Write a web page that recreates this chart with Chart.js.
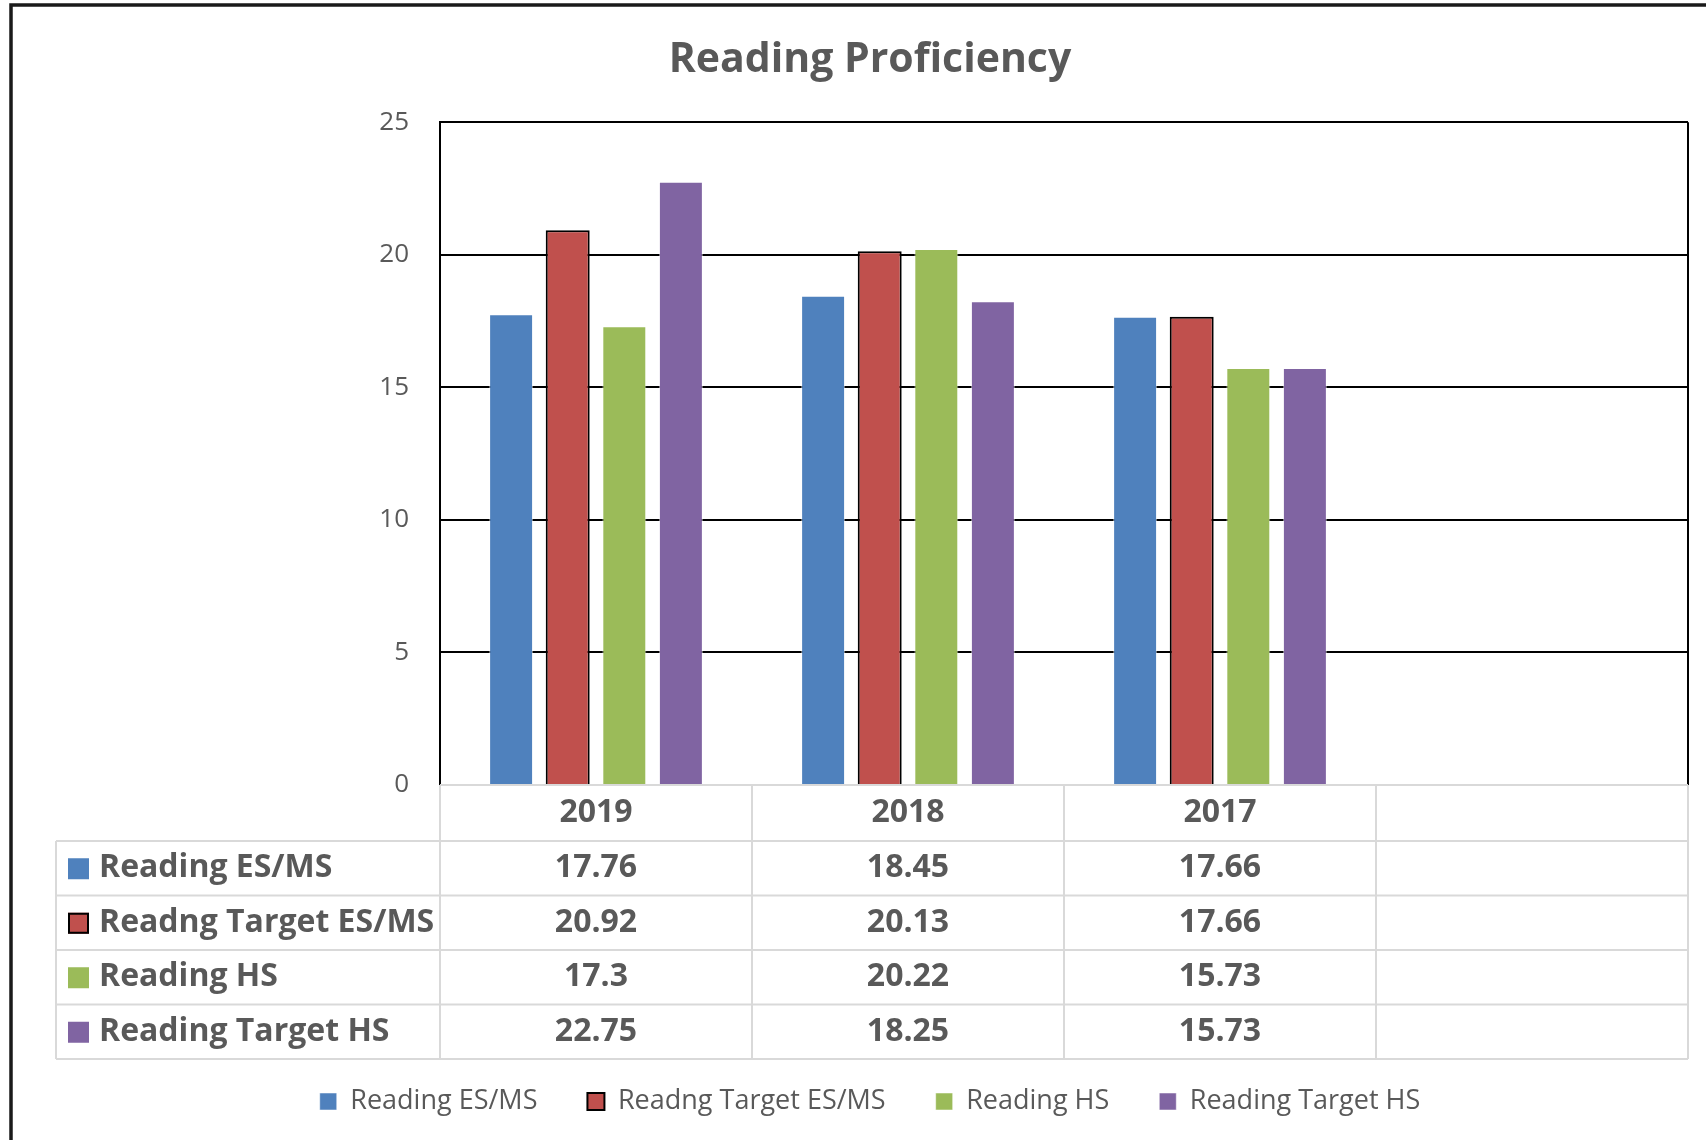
<!DOCTYPE html>
<html>
<head>
<meta charset="utf-8">
<style>
  html, body { margin: 0; padding: 0; background: #fff; }
  #readingChart { display: block; }
</style>
</head>
<body>
<canvas id="readingChart" width="1706" height="1140" style="width:1706px;height:1140px"></canvas>
<script src="https://cdn.jsdelivr.net/npm/chart.js"></script>
<script>
    // values
    const years = ['2019', '2018', '2017', ''];
    const seriesNames = ['Reading ES/MS', 'Readng Target ES/MS', 'Reading HS', 'Reading Target HS'];
    const readingEsMs = [17.76, 18.45, 17.66, null];
    const targetEsMs = [20.92, 20.13, 17.66, null];
    const readingHs = [17.3, 20.22, 15.73, null];
    const targetHs = [22.75, 18.25, 15.73, null];
    const yTicks = [0, 5, 10, 15, 20, 25];

    const textGrey = '#595959';
    const fontFamily = '"Open Sans", "Noto Sans", sans-serif';
    const colors = ['#4F81BD', '#C0504D', '#9BBB59', '#8064A2'];
    const allSeries = [readingEsMs, targetEsMs, readingHs, targetHs];

    Chart.defaults.font.family = fontFamily;
    Chart.defaults.color = textGrey;

    // frame round the chart and the plot's right edge
    const framePlugin = {
        id: 'frame',
        beforeDraw(chart) {
            const c = chart.ctx;
            c.save();
            c.fillStyle = '#fff';
            c.fillRect(0, 0, chart.width, chart.height);
            c.strokeStyle = '#1a1a1a';
            c.lineWidth = 3.5;
            c.beginPath();
            c.moveTo(11, chart.height);
            c.lineTo(11, 5);
            c.lineTo(chart.width, 5);
            c.stroke();
            c.restore();
        },
        afterDatasetsDraw(chart) {
            const a = chart.chartArea;
            const c = chart.ctx;
            c.save();
            c.strokeStyle = '#000';
            c.lineWidth = 2;
            c.beginPath();
            c.moveTo(a.right, a.top);
            c.lineTo(a.right, a.bottom);
            c.stroke();
            c.restore();
        }
    };

    // data table under the plot, columns follow the x scale
    const tablePlugin = {
        id: 'dataTable',
        afterDraw(chart) {
            const a = chart.chartArea;
            const x = chart.scales.x;
            const c = chart.ctx;
            const colW = (a.right - a.left) / years.length;
            const headTop = a.bottom;
            const headH = 56;
            const rowH = 54.5;
            const tableLeft = 56;
            const bottom = headTop + headH + rowH * seriesNames.length;

            c.save();
            c.strokeStyle = '#d9d9d9';
            c.lineWidth = 2;
            c.beginPath();
            c.moveTo(a.left, headTop);
            c.lineTo(a.right, headTop);
            for (let r = 0; r <= seriesNames.length; r++) {
                const y = headTop + headH + r * rowH;
                c.moveTo(tableLeft, y);
                c.lineTo(a.right, y);
            }
            c.moveTo(tableLeft, headTop + headH);
            c.lineTo(tableLeft, bottom);
            for (let i = 0; i <= years.length; i++) {
                const xx = a.left + i * colW;
                c.moveTo(xx, headTop);
                c.lineTo(xx, bottom);
            }
            c.stroke();

            c.fillStyle = textGrey;
            c.font = 'bold 32px ' + fontFamily;
            c.textAlign = 'center';
            c.textBaseline = 'middle';
            years.forEach((yr, i) => {
                c.fillText(yr, x.getPixelForValue(i), headTop + headH / 2);
            });

            seriesNames.forEach((name, r) => {
                const cy = headTop + headH + r * rowH + rowH / 2;
                c.fillStyle = colors[r];
                c.fillRect(68, cy - 10, 21, 21);
                if (r === 1) {
                    c.strokeStyle = '#000';
                    c.lineWidth = 2;
                    c.strokeRect(69, cy - 9, 19, 19);
                }
                c.fillStyle = textGrey;
                c.textAlign = 'left';
                c.fillText(name, 99, cy);
                c.textAlign = 'center';
                allSeries[r].forEach((v, i) => {
                    if (v !== null) c.fillText(String(v), x.getPixelForValue(i), cy);
                });
            });
            c.restore();
        }
    };

    const ctx = document.getElementById('readingChart').getContext('2d');

    new Chart(ctx, {
        type: 'bar',
        data: {
            labels: years,
            datasets: seriesNames.map((name, i) => ({
                label: name,
                data: allSeries[i],
                backgroundColor: colors[i],
                borderColor: i === 1 ? '#000' : 'rgba(255,255,255,0.5)',
                borderWidth: i === 1 ? 2 : 1
            }))
        },
        options: {
            responsive: false,
            animation: false,
            layout: {
                padding: { left: 52, right: 18, top: 0, bottom: 15 }
            },
            datasets: {
                bar: { categoryPercentage: 0.7256, barPercentage: 0.777 }
            },
            plugins: {
                title: {
                    display: true,
                    text: 'Reading Proficiency',
                    color: textGrey,
                    font: { size: 41, weight: 'bold' },
                    padding: { top: 36, bottom: 37 }
                },
                legend: {
                    position: 'bottom',
                    labels: {
                        boxWidth: 17,
                        boxHeight: 17,
                        padding: 50,
                        color: textGrey,
                        font: { size: 27 }
                    }
                },
                tooltip: { enabled: false }
            },
            scales: {
                x: {
                    grid: { display: false },
                    border: { display: false },
                    ticks: { display: false },
                    afterFit(scale) { scale.height = 253; }
                },
                y: {
                    min: 0,
                    max: 25,
                    afterBuildTicks(scale) { scale.ticks = yTicks.map(v => ({ value: v })); },
                    grid: {
                        color: c => c.tick && c.tick.value === 0 ? '#d9d9d9' : '#000',
                        lineWidth: 2,
                        drawTicks: false
                    },
                    border: { display: true, color: '#000', width: 2 },
                    ticks: {
                        padding: 31,
                        color: textGrey,
                        font: { size: 26 }
                    },
                    afterFit(scale) { scale.width = 388; }
                }
            }
        },
        plugins: [framePlugin, tablePlugin]
    });
</script>
</body>
</html>
